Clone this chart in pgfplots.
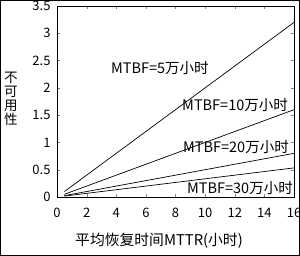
\documentclass[border=0pt]{standalone}
\usepackage{pgfplots}
\pgfplotsset{compat=1.18}
\usepackage{fontspec}
\setmainfont{Noto Sans CJK SC}
\begin{document}
\begin{tikzpicture}[x=1pt,y=1pt]
\useasboundingbox (0,0) rectangle (300,256);
\draw[line width=1.2pt] (0.6,0.6) rectangle (299.4,255.4);
\begin{axis}[
  at={(57pt,59pt)}, anchor=south west,
  scale only axis, width=237pt, height=191pt,
  xmin=0, xmax=16, ymin=0, ymax=3.5,
  xtick={0,2,...,16}, ytick={0,0.5,1,1.5,2,2.5,3,3.5},
  tick align=inside, major tick length=3pt,
  axis line style={line width=0.6pt},
  ticklabel style={font=\fontsize{13}{15}\selectfont},
  /pgf/number format/assume math mode=true,
  xticklabel style={yshift=-8pt},
  yticklabel style={xshift=-3pt},
  clip=false,
]
\addplot[black, line width=0.7pt, no marks] coordinates {(0.5,0.1) (16,3.2)};
\addplot[black, line width=0.7pt, no marks] coordinates {(0.5,0.05) (16,1.6)};
\addplot[black, line width=0.7pt, no marks] coordinates {(0.5,0.025) (16,0.8)};
\addplot[black, line width=0.7pt, no marks] coordinates {(0.5,0.0167) (16,0.5333)};
\node[font=\fontsize{14.5}{16}\selectfont] at (axis cs:6.95,2.364) {MTBF=5万小时};
\node[font=\fontsize{14.5}{16}\selectfont] at (axis cs:12.02,1.686) {MTBF=10万小时};
\node[font=\fontsize{14.5}{16}\selectfont] at (axis cs:12.08,0.916) {MTBF=20万小时};
\node[font=\fontsize{14.5}{16}\selectfont] at (axis cs:12.35,0.165) {MTBF=30万小时};
\end{axis}
\node[font=\fontsize{14.8}{17}\selectfont] at (159,15) {平均恢复时间MTTR(小时)};
\node[font=\fontsize{13.5}{15}\selectfont, align=center, inner sep=0pt] at (11,157.5) {不\\[-1pt]可\\[-1pt]用\\[-1pt]性};
\end{tikzpicture}
\end{document}
